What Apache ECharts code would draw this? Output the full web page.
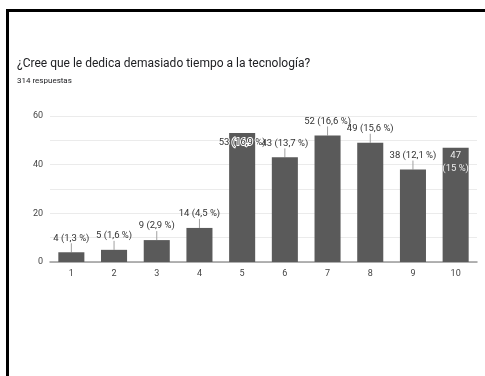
<!DOCTYPE html>
<html>
<head>
<meta charset="utf-8">
<script src="https://cdn.jsdelivr.net/npm/echarts@6/dist/echarts.min.js"></script>
<style>
  html, body { margin: 0; padding: 0; background: #fff; }
  #chart { position: absolute; left: 0; top: 0; width: 485px; height: 376px; }
  #frame { position: absolute; left: 6px; top: 9px; right: 0; bottom: 0;
           border-left: 3px solid #000; border-top: 3px solid #000; pointer-events: none; }
</style>
</head>
<body>
<div id="chart"></div>
<div id="frame"></div>
<script>
// Answers on a 1–10 scale
const categories = ['1', '2', '3', '4', '5', '6', '7', '8', '9', '10'];
const counts = [4, 5, 9, 14, 53, 43, 52, 49, 38, 47];
const percents = ['1,3', '1,6', '2,9', '4,5', '16,9', '13,7', '16,6', '15,6', '12,1', '15'];
const yTicks = [0, 20, 40, 60];

const titleText = '¿Cree que le dedica demasiado tiempo a la tecnología?';
const subText = '314 respuestas';

// Labels sit above the bar with a short leader line, except where they
// would collide (5) or hit the top (10); those go inside the bar.
const insideDark = new Set([4]);
const insideLight = new Set([9]);

const barData = counts.map((v, i) => {
  const item = { value: v };
  if (insideDark.has(i)) {
    item.label = {
      position: 'insideTop', distance: 5,
      color: '#333', textBorderColor: '#fff', textBorderWidth: 2
    };
    item.labelLine = { show: false };
  } else if (insideLight.has(i)) {
    item.label = {
      position: 'insideTop', distance: 1, color: '#eee', lineHeight: 13,
      formatter: p => p.value + '\n(' + percents[p.dataIndex] + ' %)'
    };
    item.labelLine = { show: false };
  }
  return item;
});

const chart = echarts.init(document.getElementById('chart'), null, { renderer: 'canvas' });
chart.setOption({
  animation: false,
  textStyle: { fontFamily: 'Roboto' },
  title: {
    text: titleText,
    subtext: subText,
    left: 12,
    top: 53,
    itemGap: 7,
    textStyle: { fontFamily: 'Roboto', fontSize: 12, fontWeight: 'normal', color: '#202124' },
    subtextStyle: { fontFamily: 'Roboto', fontSize: 8, color: '#202124' }
  },
  grid: { left: 50, right: 8, top: 116, bottom: 114 },
  xAxis: {
    type: 'category',
    data: categories,
    axisTick: { show: false },
    axisLine: { lineStyle: { color: '#9a9a9a', width: 1.5 } },
    axisLabel: { color: '#444', fontSize: 9, margin: 7, fontFamily: 'Roboto' }
  },
  yAxis: {
    type: 'value',
    min: 0,
    max: 60,
    interval: 10,
    axisLine: { show: false },
    axisTick: { show: false },
    axisLabel: {
      color: '#444', fontSize: 9, margin: 7, fontFamily: 'Roboto',
      formatter: v => (yTicks.indexOf(v) >= 0 ? String(v) : '')
    },
    splitLine: { lineStyle: { color: '#ebebeb', width: 1 } }
  },
  series: [{
    type: 'bar',
    data: barData,
    barWidth: '61%',
    itemStyle: { color: '#5a5a5a' },
    label: {
      show: true,
      position: 'top',
      distance: 0,
      fontSize: 9.5,
      color: '#333',
      fontFamily: 'Roboto',
      formatter: p => p.value + ' (' + percents[p.dataIndex] + ' %)'
    },
    labelLayout: p => (insideDark.has(p.dataIndex) || insideLight.has(p.dataIndex)) ? {} : { dy: -9 },
    labelLine: { show: true, lineStyle: { color: '#a0a0a0', width: 1 } }
  }]
});
</script>
</body>
</html>
